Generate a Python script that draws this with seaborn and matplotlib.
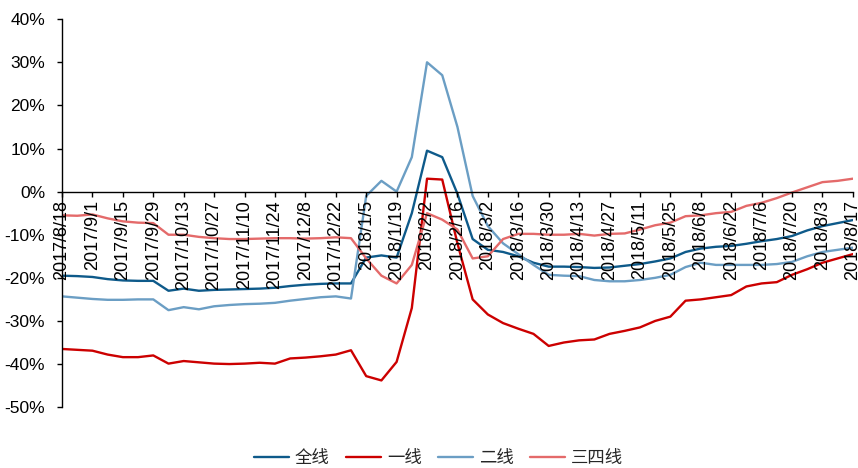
import matplotlib
matplotlib.use("Agg")
import matplotlib.pyplot as plt
import seaborn as sns
import pandas as pd
import numpy as np

# ---- data (weekly, 2017/8/18 - 2018/8/17) ----
start_date = "2017-08-18"
end_date = "2018-08-17"
series_names = ["全线", "一线", "二线", "三四线"]

all_line = [-19.5, -19.6, -19.8, -20.3, -20.6, -20.7, -20.7, -23.0, -22.5, -23.0,
            -22.8, -22.7, -22.6, -22.5, -22.3, -21.9, -21.6, -21.4, -21.3, -21.3,
            -15.3, -14.8, -15.3, -5.0, 9.5, 8.0, -0.5, -11.0, -13.5, -14.0,
            -15.0, -16.5, -17.4, -17.4, -17.5, -17.7, -17.6, -17.2, -16.8, -16.2,
            -15.5, -14.0, -13.2, -12.8, -12.6, -12.1, -11.5, -11.0, -10.3, -9.0,
            -8.0, -7.3, -6.6]
tier1 = [-36.5, -36.7, -36.9, -37.8, -38.4, -38.4, -38.0, -39.9, -39.3, -39.6,
         -39.9, -40.0, -39.9, -39.7, -39.9, -38.7, -38.5, -38.2, -37.8, -36.8,
         -42.8, -43.8, -39.5, -27.0, 3.0, 2.8, -12.0, -25.0, -28.5, -30.5,
         -31.8, -33.0, -35.8, -35.0, -34.5, -34.3, -33.0, -32.3, -31.5, -30.0,
         -29.0, -25.3, -25.0, -24.5, -24.0, -22.0, -21.3, -21.0, -19.3, -18.0,
         -16.5, -15.5, -14.5]
tier2 = [-24.3, -24.6, -24.9, -25.1, -25.1, -25.0, -25.0, -27.5, -26.8, -27.3,
         -26.6, -26.3, -26.1, -26.0, -25.8, -25.3, -24.9, -24.5, -24.3, -24.8,
         -1.0, 2.5, 0.0, 8.0, 30.0, 27.0, 15.0, -1.0, -8.0, -12.0,
         -14.5, -17.0, -19.3, -19.5, -19.6, -20.5, -20.8, -20.8, -20.5, -20.0,
         -19.3, -17.5, -16.5, -17.0, -17.0, -17.0, -17.0, -16.8, -16.3, -15.0,
         -14.0, -13.5, -13.0]
tier34 = [-5.5, -5.6, -5.3, -6.2, -6.9, -7.2, -7.3, -10.0, -10.0, -10.5,
          -10.8, -11.0, -11.0, -10.9, -10.8, -10.8, -10.9, -10.8, -10.6, -10.8,
          -15.5, -19.5, -21.3, -17.0, -5.0, -6.5, -8.8, -15.5, -15.0, -11.0,
          -9.8, -9.8, -10.0, -10.0, -9.8, -10.2, -9.8, -9.7, -8.8, -7.8,
          -7.2, -5.7, -5.5, -5.0, -4.7, -3.3, -2.6, -1.5, -0.2, 1.0,
          2.2, 2.5, 3.0]

x_tick_labels = ["2017/8/18", "2017/9/1", "2017/9/15", "2017/9/29", "2017/10/13",
                 "2017/10/27", "2017/11/10", "2017/11/24", "2017/12/8", "2017/12/22",
                 "2018/1/5", "2018/1/19", "2018/2/2", "2018/2/16", "2018/3/2",
                 "2018/3/16", "2018/3/30", "2018/4/13", "2018/4/27", "2018/5/11",
                 "2018/5/25", "2018/6/8", "2018/6/22", "2018/7/6", "2018/7/20",
                 "2018/8/3", "2018/8/17"]
y_ticks = [-50, -40, -30, -20, -10, 0, 10, 20, 30, 40]

colors = {"全线": "#0E5A8A", "一线": "#CC0000", "二线": "#6B9EC4", "三四线": "#E46A6A"}

dates = pd.date_range(start_date, end_date, freq="7D")
df = pd.DataFrame({"date": dates, "全线": all_line, "一线": tier1,
                   "二线": tier2, "三四线": tier34})
long = df.melt(id_vars="date", var_name="series", value_name="value")

sns.set_theme(style="white")
plt.rcParams["font.family"] = ["Liberation Sans", "Noto Sans CJK SC", "DejaVu Sans"]

fig = plt.figure(figsize=(8.58, 4.68), dpi=100)
ax = fig.add_axes([0.0723, 0.130, 0.9217, 0.829])

sns.lineplot(data=long, x="date", y="value", hue="series", hue_order=series_names,
             palette=colors, linewidth=1.7, ax=ax)
for ln in ax.get_lines():
    ln.set_solid_joinstyle("round")

ax.set_xlim(dates[0], dates[-1])
ax.set_ylim(-50, 40)
ax.set_yticks(y_ticks)
ax.set_yticklabels([f"{v}%" for v in y_ticks])
tick_dates = pd.to_datetime(x_tick_labels, format="%Y/%m/%d")
ax.set_xticks(tick_dates)
ax.set_xticklabels(x_tick_labels)
ax.set_xlabel("")
ax.set_ylabel("")

for s in ["top", "right"]:
    ax.spines[s].set_visible(False)
ax.spines["bottom"].set_position(("data", 0))
for s in ["left", "bottom"]:
    ax.spines[s].set_color("black")
    ax.spines[s].set_linewidth(1.0)
ax.tick_params(axis="both", direction="out", length=3.6, width=1.0, color="black",
               bottom=True, left=True, labelcolor="black")
ax.tick_params(axis="x", pad=2.5, labelrotation=90, labelsize=13)
ax.tick_params(axis="y", pad=8.5, labelsize=12.5)
for lab in ax.get_xticklabels():
    lab.set_rotation(90)
    lab.set_va("top")
    lab.set_ha("center")
ax.set_axisbelow(False)
ax.grid(False)

sns.move_legend(ax, "center", bbox_to_anchor=(0.511, 0.022),
                bbox_transform=fig.transFigure, ncol=4, frameon=False, title=None,
                handlelength=2.0, columnspacing=0.95, handletextpad=0.35,
                prop={"family": ["Noto Sans CJK SC"], "size": 12.5})

fig.savefig("out.png", dpi=100)
